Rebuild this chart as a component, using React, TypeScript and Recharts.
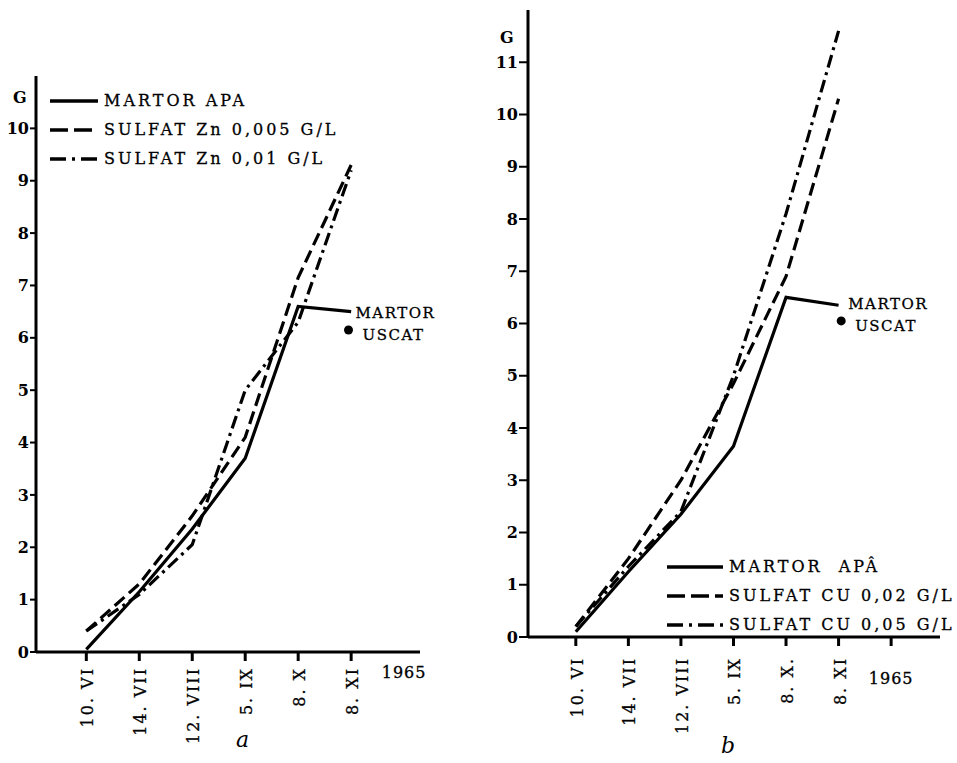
import { LineChart, Line, XAxis, YAxis, ReferenceDot } from "recharts";

const FONT = "'DejaVu Serif', serif";

const datesA = ["10. VI", "14. VII", "12. VIII", "5. IX", "8. X", "8. XI"];
const datesB = ["10. VI", "14. VII", "12. VIII", "5. IX", "8. X.", "8. XI"];
const yearLabel = "1965";

// panel a (zinc sulphate)
const martorApaA = [0.05, 1.15, 2.35, 3.7, 6.6, 6.5];
const znLowA = [0.4, 1.3, 2.6, 4.1, 7.15, 9.3];
const znHighA = [0.4, 1.1, 2.05, 5.0, 6.3, 9.2];
const martorUscatA = 6.15;
const legendA = ["MARTOR APA", "SULFAT Zn 0,005 G/L", "SULFAT Zn 0,01 G/L"];
const yTicksA = [0, 1, 2, 3, 4, 5, 6, 7, 8, 9, 10];

// panel b (copper sulphate)
const martorApaB = [0.1, 1.25, 2.35, 3.65, 6.5, 6.35];
const cuLowB = [0.2, 1.5, 3.0, 4.85, 6.9, 10.3];
const cuHighB = [0.2, 1.35, 2.4, 5.0, 8.1, 11.6];
const martorUscatB = 6.05;
const legendB = ["MARTOR  APÂ", "SULFAT CU 0,02 G/L", "SULFAT CU 0,05 G/L"];
const yTicksB = [0, 1, 2, 3, 4, 5, 6, 7, 8, 9, 10, 11];

const xTicks = [0, 1, 2, 3, 4, 5, 6];
const DASH = "13 6";
const DASHDOT = "13 5 3 5";

function buildRows(m: number[], lo: number[], hi: number[]) {
  return m.map((v, i) => ({ i, m: v, lo: lo[i], hi: hi[i] }));
}

function makeTick(labels: string[], gap: number, yearBase: number, yearTick: boolean) {
  return (props: any) => {
    const { x, y, payload } = props;
    const idx = payload.value;
    if (idx === 6) {
      return (
        <g>
          {yearTick && <line x1={x} x2={x} y1={y} y2={y + 9} stroke="#000" strokeWidth={3} />}
          <text x={x} y={y + yearBase} textAnchor="middle" fontFamily={FONT} fontSize={16} fill="#000" stroke="#000" strokeWidth={0.3} letterSpacing={1}>
            {yearLabel}
          </text>
        </g>
      );
    }
    return (
      <g>
        <line x1={x} x2={x} y1={y} y2={y + 9} stroke="#000" strokeWidth={3} />
        <text
          transform={`translate(${x + 7},${y + gap}) rotate(-90)`}
          textAnchor="end"
          fontFamily={FONT}
          fontSize={16}
          fill="#000"
          stroke="#000"
          strokeWidth={0.3}
          letterSpacing={2}
        >
          {labels[idx]}
        </text>
      </g>
    );
  };
}

const uscatShape = (props: any) => {
  const { cx, cy } = props;
  return (
    <g fontFamily={FONT} fontSize={15} fill="#000" letterSpacing={1.5}>
      <circle cx={cx} cy={cy} r={4.5} fill="#000" />
      <text x={cx + 7} y={cy - 12} stroke="#000" strokeWidth={0.3}>MARTOR</text>
      <text x={cx + 14} y={cy + 10} stroke="#000" strokeWidth={0.3}>USCAT</text>
    </g>
  );
};

function LegendBox({ items, left, top, lineW }: { items: string[]; left: number; top: number; lineW: number }) {
  const dashes = [undefined, "18 6", "16 6 3 6"];
  return (
    <div style={{ position: "absolute", left, top }}>
      {items.map((t, k) => (
        <div key={t} style={{ display: "flex", alignItems: "center", height: 29 }}>
          <svg width={lineW} height={10} style={{ marginRight: 6 }}>
            <line x1={0} x2={lineW} y1={5} y2={5} stroke="#000" strokeWidth={3.5} strokeDasharray={dashes[k]} />
          </svg>
          <span style={{ fontFamily: FONT, fontSize: 16, letterSpacing: 3, whiteSpace: "pre", WebkitTextStroke: "0.3px #000" }}>{t}</span>
        </div>
      ))}
    </div>
  );
}

const axisStyle = { stroke: "#000", strokeWidth: 3 };
const yTick = { fill: "#000", fontSize: 16, fontFamily: FONT, fontWeight: "bold" as const };

export default function App() {
  const dataA = buildRows(martorApaA, znLowA, znHighA);
  const dataB = buildRows(martorApaB, cuLowB, cuHighB);

  return (
    <div style={{ position: "absolute", left: 0, top: 0, width: 957, height: 763, background: "#fff", overflow: "hidden" }}>
      {/* panel a */}
      <div style={{ position: "absolute", left: 0, top: 0 }}>
        <LineChart width={480} height={763} data={dataA} margin={{ top: 76, right: 60, left: 6, bottom: 81 }}>
          <XAxis
            type="number"
            dataKey="i"
            domain={[-0.95, 6.3]}
            ticks={xTicks}
            height={30}
            axisLine={axisStyle}
            tickLine={false}
            tickSize={0}
            tickMargin={0}
            tick={makeTick(datesA, 15, 26, false)}
            interval={0}
            allowDataOverflow
          />
          <YAxis
            type="number"
            domain={[0, 11]}
            ticks={yTicksA}
            width={30}
            axisLine={axisStyle}
            tickLine={{ stroke: "#000", strokeWidth: 2 }}
            tickSize={6}
            tickMargin={1}
            tick={yTick}
            interval={0}
            allowDataOverflow
          />
          <Line type="linear" dataKey="m" stroke="#000" strokeWidth={3.2} dot={false} isAnimationActive={false} />
          <Line type="linear" dataKey="lo" stroke="#000" strokeWidth={3.2} strokeDasharray={DASH} dot={false} isAnimationActive={false} />
          <Line type="linear" dataKey="hi" stroke="#000" strokeWidth={3.2} strokeDasharray={DASHDOT} dot={false} isAnimationActive={false} />
          <ReferenceDot x={4.95} y={martorUscatA} r={4.5} shape={uscatShape} />
        </LineChart>
      </div>

      {/* panel b */}
      <div style={{ position: "absolute", left: 480, top: 0 }}>
        <LineChart width={477} height={763} data={dataB} margin={{ top: 10, right: 17, left: 18, bottom: 96 }}>
          <XAxis
            type="number"
            dataKey="i"
            domain={[-0.91, 6.93]}
            ticks={xTicks}
            height={30}
            axisLine={axisStyle}
            tickLine={false}
            tickSize={0}
            tickMargin={0}
            tick={makeTick(datesB, 20, 47, true)}
            interval={0}
            allowDataOverflow
          />
          <YAxis
            type="number"
            domain={[0, 12]}
            ticks={yTicksB}
            width={30}
            axisLine={axisStyle}
            tickLine={{ stroke: "#000", strokeWidth: 2 }}
            tickSize={9}
            tickMargin={1}
            tick={yTick}
            interval={0}
            allowDataOverflow
          />
          <Line type="linear" dataKey="m" stroke="#000" strokeWidth={3.2} dot={false} isAnimationActive={false} />
          <Line type="linear" dataKey="lo" stroke="#000" strokeWidth={3.2} strokeDasharray={DASH} dot={false} isAnimationActive={false} />
          <Line type="linear" dataKey="hi" stroke="#000" strokeWidth={3.2} strokeDasharray={DASHDOT} dot={false} isAnimationActive={false} />
          <ReferenceDot x={5.05} y={martorUscatB} r={4.5} shape={uscatShape} />
        </LineChart>
      </div>

      {/* axis unit labels */}
      <div style={{ position: "absolute", left: 13, top: 88, fontFamily: FONT, fontSize: 16, fontWeight: "bold" }}>G</div>
      <div style={{ position: "absolute", left: 500, top: 28, fontFamily: FONT, fontSize: 16, fontWeight: "bold" }}>G</div>

      <LegendBox items={legendA} left={50} top={86} lineW={48} />
      <LegendBox items={legendB} left={667} top={552} lineW={56} />

      <div style={{ position: "absolute", left: 236, top: 727, fontFamily: FONT, fontSize: 22, fontStyle: "italic" }}>a</div>
      <div style={{ position: "absolute", left: 721, top: 733, fontFamily: FONT, fontSize: 22, fontStyle: "italic" }}>b</div>
    </div>
  );
}
